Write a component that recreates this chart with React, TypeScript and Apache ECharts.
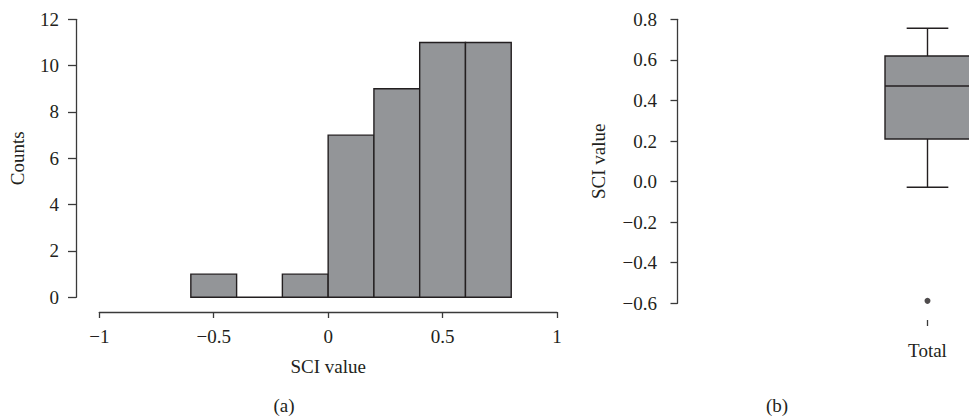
import React, { useEffect, useRef } from "react";
import * as echarts from "echarts";

// Histogram (a)
const binStarts = [-0.6, -0.4, -0.2, 0, 0.2, 0.4, 0.6];
const binEnds = [-0.4, -0.2, 0, 0.2, 0.4, 0.6, 0.8];
const counts = [1, 0, 1, 7, 9, 11, 11];

// Box plot (b)
const boxCategories = ["Total"];
const boxStats = [-0.028, 0.21, 0.471, 0.619, 0.756]; // min, Q1, median, Q3, max
const outliers = [-0.588];

const FONT = "'Liberation Serif', 'DejaVu Serif', serif";
const TEXT = "#231f20";
const AXIS = "#3a3a3a";
const FILL = "#939598";

const minus = (s: string) => s.replace("-", "\u2212");

export default function App() {
  const ref = useRef<HTMLDivElement>(null);
  useEffect(() => {
    if (!ref.current) return;
    document.body.style.margin = "0";
    document.body.style.overflow = "hidden";
    const chart = echarts.init(ref.current, null, { renderer: "svg" });
    const labelStyle = { color: TEXT, fontFamily: FONT, fontSize: 19 };
    const histData = binStarts.map((s, i) => [s, binEnds[i], counts[i]]);
    const boxData = boxCategories.map((_, i) => [i, ...boxStats]);
    const outlierData = outliers.map((v) => [0, v]);

    chart.setOption({
      animation: false,
      backgroundColor: "#ffffff",
      textStyle: { fontFamily: FONT },
      grid: [
        { left: 99.3, top: 19.3, width: 457.7, height: 278 },
        { left: 677.5, top: 19.3, width: 500, height: 284 },
      ],
      xAxis: [
        {
          type: "value",
          gridIndex: 0,
          min: -1,
          max: 1,
          interval: 0.5,
          offset: 14.7,
          name: "SCI value",
          nameLocation: "middle",
          nameGap: 45,
          nameTextStyle: labelStyle,
          axisLine: { show: true, onZero: false, lineStyle: { color: AXIS, width: 1.3 } },
          axisTick: { show: true, length: 6, lineStyle: { color: AXIS, width: 1.3 } },
          axisLabel: { ...labelStyle, margin: 15, formatter: (v: number) => minus(String(v)) },
          splitLine: { show: false },
        },
        {
          type: "category",
          gridIndex: 1,
          data: boxCategories,
          offset: 16.7,
          axisLine: { show: true, onZero: false, lineStyle: { color: "rgba(0,0,0,0)", width: 0 } },
          axisTick: { show: true, alignWithLabel: true, length: 6, lineStyle: { color: AXIS, width: 1.3 } },
          axisLabel: { ...labelStyle, margin: 21 },
          splitLine: { show: false },
        },
      ],
      yAxis: [
        {
          type: "value",
          gridIndex: 0,
          min: 0,
          max: 12,
          interval: 2,
          offset: 23.3,
          name: "Counts",
          nameLocation: "middle",
          nameGap: 49,
          nameTextStyle: labelStyle,
          axisLine: { show: true, onZero: false, lineStyle: { color: AXIS, width: 1.3 } },
          axisTick: { show: true, length: 8, lineStyle: { color: AXIS, width: 1.3 } },
          axisLabel: { ...labelStyle, margin: 17 },
          splitLine: { show: false },
        },
        {
          type: "value",
          gridIndex: 1,
          min: -0.6,
          max: 0.8,
          interval: 0.2,
          name: "SCI value",
          nameLocation: "middle",
          nameGap: 70,
          nameTextStyle: labelStyle,
          axisLine: { show: true, onZero: false, lineStyle: { color: AXIS, width: 1.3 } },
          axisTick: { show: true, length: 7, lineStyle: { color: AXIS, width: 1.3 } },
          axisLabel: {
            ...labelStyle,
            margin: 20.5,
            formatter: (v: number) => (Math.abs(v) < 1e-9 ? "0.0" : minus(v.toFixed(1))),
          },
          splitLine: { show: false },
        },
      ],
      series: [
        {
          type: "custom",
          xAxisIndex: 0,
          yAxisIndex: 0,
          data: histData,
          encode: { x: [0, 1], y: 2 },
          renderItem: (params: any, api: any) => {
            const p0 = api.coord([api.value(0), api.value(2)]);
            const p1 = api.coord([api.value(1), 0]);
            return {
              type: "rect",
              shape: { x: p0[0], y: p0[1], width: p1[0] - p0[0], height: p1[1] - p0[1] },
              style: { fill: FILL, stroke: TEXT, lineWidth: 1.4 },
            };
          },
        },
        {
          type: "custom",
          xAxisIndex: 1,
          yAxisIndex: 1,
          data: boxData,
          encode: { x: 0, y: [1, 2, 3, 4, 5] },
          renderItem: (params: any, api: any) => {
            const idx = api.value(0);
            const yMin = api.coord([idx, api.value(1)]);
            const yQ1 = api.coord([idx, api.value(2)]);
            const yMed = api.coord([idx, api.value(3)]);
            const yQ3 = api.coord([idx, api.value(4)]);
            const yMax = api.coord([idx, api.value(5)]);
            const cx = yMed[0];
            const bw = api.size([1, 0])[0] * 0.17;
            const cw = bw * 0.49;
            const ls = { stroke: TEXT, lineWidth: 1.4 };
            return {
              type: "group",
              children: [
                { type: "line", shape: { x1: cx, y1: yQ3[1], x2: cx, y2: yMax[1] }, style: ls },
                { type: "line", shape: { x1: cx, y1: yQ1[1], x2: cx, y2: yMin[1] }, style: ls },
                { type: "line", shape: { x1: cx - cw / 2, y1: yMax[1], x2: cx + cw / 2, y2: yMax[1] }, style: ls },
                { type: "line", shape: { x1: cx - cw / 2, y1: yMin[1], x2: cx + cw / 2, y2: yMin[1] }, style: ls },
                {
                  type: "rect",
                  shape: { x: cx - bw / 2, y: yQ3[1], width: bw, height: yQ1[1] - yQ3[1] },
                  style: { fill: FILL, stroke: TEXT, lineWidth: 1.4 },
                },
                { type: "line", shape: { x1: cx - bw / 2, y1: yMed[1], x2: cx + bw / 2, y2: yMed[1] }, style: ls },
              ],
            };
          },
        },
        {
          type: "scatter",
          xAxisIndex: 1,
          yAxisIndex: 1,
          data: outlierData,
          symbol: "circle",
          symbolSize: 6,
          itemStyle: { color: TEXT },
        },
      ],
      graphic: [
        {
          type: "text",
          x: 284,
          y: 405,
          style: { text: "(a)", fill: TEXT, font: `19px ${FONT}`, align: "center", verticalAlign: "middle" },
        },
        {
          type: "text",
          x: 777,
          y: 405,
          style: { text: "(b)", fill: TEXT, font: `19px ${FONT}`, align: "center", verticalAlign: "middle" },
        },
      ],
    });
    return () => chart.dispose();
  }, []);
  return (
    <div
      ref={ref}
      style={{ position: "fixed", left: 0, top: 0, width: 1200, height: 419, background: "#fff" }}
    />
  );
}
